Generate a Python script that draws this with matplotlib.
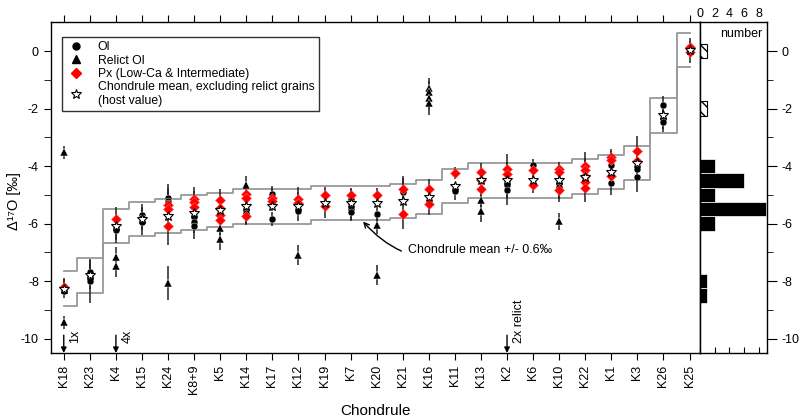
import numpy as np
import matplotlib
matplotlib.use('Agg')
import matplotlib.pyplot as plt
from matplotlib.lines import Line2D

plt.rcParams['font.family'] = ['Liberation Sans', 'DejaVu Sans']
plt.rcParams['axes.unicode_minus'] = False

# chondrules, ordered as on the x axis
chondrules = ['K18', 'K23', 'K4', 'K15', 'K24', 'K8+9', 'K5', 'K14', 'K17', 'K12',
              'K19', 'K7', 'K20', 'K21', 'K16', 'K11', 'K13', 'K2', 'K6', 'K10',
              'K22', 'K1', 'K3', 'K26', 'K25']
# chondrule mean (host value, relicts excluded)
host_mean = [-8.26, -7.80, -6.08, -5.84, -5.74, -5.62, -5.52, -5.40, -5.40, -5.40,
             -5.28, -5.28, -5.28, -5.21, -5.08, -4.70, -4.50, -4.50, -4.50, -4.50,
             -4.37, -4.21, -3.90, -2.24, 0.03]
band = 0.6

# olivine
ol_chond = ['K18', 'K18', 'K23', 'K23', 'K23', 'K4', 'K4', 'K15', 'K15', 'K15',
            'K24', 'K24', 'K24', 'K8+9', 'K8+9', 'K8+9', 'K14', 'K14', 'K14',
            'K17', 'K17', 'K12', 'K7', 'K7', 'K7', 'K7', 'K20', 'K21', 'K11',
            'K2', 'K2', 'K2', 'K6', 'K10', 'K10', 'K1', 'K1', 'K3', 'K3',
            'K26', 'K26', 'K26']
ol_d17 = [-8.20, -8.35, -7.67, -7.84, -8.00, -6.17, -6.23, -5.71, -5.81, -5.95,
          -5.12, -5.22, -5.30, -5.77, -5.94, -6.09, -5.54, -5.63, -5.72,
          -4.96, -5.83, -5.55, -5.13, -5.30, -5.48, -5.60, -5.65, -4.90, -4.88,
          -4.50, -4.67, -4.84, -3.96, -4.59, -4.73, -3.96, -4.58, -4.09, -4.38,
          -1.88, -2.36, -2.48]
ol_err = [0.30, 0.25, 0.42, 0.45, 0.76, 0.40, 0.45, 0.40, 0.40, 0.45,
          0.50, 0.45, 0.45, 0.40, 0.40, 0.45, 0.35, 0.35, 0.30,
          0.25, 0.25, 0.35, 0.35, 0.35, 0.40, 0.30, 0.30, 0.50, 0.30,
          0.45, 0.45, 0.52, 0.20, 0.40, 0.40, 0.35, 0.44, 0.45, 0.52,
          0.32, 0.35, 0.35]

# relict olivine
relict_chond = ['K18', 'K18', 'K4', 'K4', 'K24', 'K5', 'K5', 'K14', 'K12', 'K20',
                'K20', 'K16', 'K16', 'K16', 'K16', 'K13', 'K13', 'K10']
relict_d17 = [-3.52, -9.43, -7.15, -7.47, -8.07, -6.17, -6.54, -4.67, -7.09, -6.06,
              -7.78, -1.29, -1.44, -1.62, -1.79, -5.19, -5.56, -5.92]
relict_err = [0.23, 0.22, 0.35, 0.37, 0.60, 0.35, 0.38, 0.34, 0.35, 0.30,
              0.35, 0.35, 0.40, 0.40, 0.45, 0.35, 0.38, 0.30]

# pyroxene (low-Ca & intermediate)
px_chond = ['K18', 'K4', 'K24', 'K24', 'K24', 'K8+9', 'K8+9', 'K8+9', 'K5', 'K5',
            'K5', 'K5', 'K14', 'K14', 'K14', 'K17', 'K17', 'K12', 'K12', 'K19',
            'K19', 'K7', 'K20', 'K21', 'K21', 'K16', 'K16', 'K11', 'K13', 'K13',
            'K13', 'K2', 'K2', 'K6', 'K6', 'K10', 'K10', 'K10', 'K22', 'K22',
            'K22', 'K22', 'K22', 'K1', 'K1', 'K1', 'K3', 'K3', 'K25', 'K25']
px_d17 = [-8.22, -5.85, -5.35, -5.48, -6.09, -5.13, -5.25, -5.42, -5.17, -5.45,
          -5.71, -5.88, -4.96, -5.10, -5.75, -5.10, -5.21, -5.13, -5.30, -5.02,
          -5.40, -5.02, -5.02, -4.79, -5.65, -4.79, -5.33, -4.24, -4.21, -4.47,
          -4.81, -4.09, -4.27, -4.15, -4.67, -4.10, -4.22, -4.84, -3.99, -4.15,
          -4.33, -4.56, -4.76, -3.67, -3.78, -4.33, -3.48, -3.83, 0.14, -0.03]
px_err = [0.28, 0.43, 0.40, 0.40, 0.66, 0.40, 0.40, 0.40, 0.38, 0.40,
          0.40, 0.40, 0.35, 0.35, 0.30, 0.35, 0.35, 0.40, 0.40, 0.30,
          0.40, 0.25, 0.25, 0.45, 0.55, 0.35, 0.38, 0.22, 0.30, 0.30,
          0.35, 0.50, 0.40, 0.25, 0.25, 0.25, 0.30, 0.40, 0.47, 0.40,
          0.40, 0.40, 0.49, 0.27, 0.30, 0.40, 0.54, 0.40, 0.32, 0.37]

# grains off scale (below -10.5)
offscale_chond = ['K18', 'K4', 'K2']
offscale_label = ['1x', '4x', '2x relict']

# histogram of chondrule means; hatched ones drawn apart
hatched_chond = ['K26', 'K25']
bin_edges = np.arange(-10.25, 1.0, 0.5)

pos = {c: i for i, c in enumerate(chondrules)}
ol_x = [pos[c] for c in ol_chond]
relict_x = [pos[c] for c in relict_chond]
px_x = [pos[c] for c in px_chond]
xs = np.arange(len(chondrules))
mean = np.array(host_mean)

fig = plt.figure(figsize=(8, 4.18), dpi=100)
ax = fig.add_axes([0.0634, 0.1555, 0.8116, 0.7912])
axh = fig.add_axes([0.875, 0.1555, 0.0838, 0.7912])

# mean +/- 0.6 envelope
ax.plot(xs, mean + band, drawstyle='steps-mid', color='#999999', lw=1.3, zorder=1)
ax.plot(xs, mean - band, drawstyle='steps-mid', color='#999999', lw=1.3, zorder=1)

# error bars
for x, y, e in [(ol_x, ol_d17, ol_err), (relict_x, relict_d17, relict_err),
                (px_x, px_d17, px_err)]:
    ax.errorbar(x, y, yerr=e, fmt='none', ecolor='#222222', elinewidth=1.1,
                capsize=0, zorder=2)

ax.plot(ol_x, ol_d17, 'o', color='black', ms=5, mec='white', mew=0.3, zorder=3)
ax.plot(relict_x, relict_d17, '^', color='black', ms=5.5, mec='white', mew=0.3, zorder=3)
ax.plot(px_x, px_d17, 'D', color='#ff0000', ms=4.8, mec='#ff6060', mew=0.4, zorder=4)
ax.plot(xs, host_mean, '*', ms=7.5, mfc='white', mec='black', mew=0.8, zorder=5)

# off-scale arrows
for c, lab in zip(offscale_chond, offscale_label):
    ax.annotate('', xy=(pos[c], -10.5), xytext=(pos[c], -9.88),
                arrowprops=dict(arrowstyle='-|>', color='black', lw=1,
                                mutation_scale=8, shrinkA=0, shrinkB=0))
    ax.text(pos[c] + 0.22, -10.15, lab, rotation=90, ha='left', va='bottom',
            fontsize=9)

ax.annotate('Chondrule mean +/- 0.6‰', xy=(11.48, -5.93), xytext=(13.2, -6.92),
            fontsize=9, va='center', ha='left',
            arrowprops=dict(arrowstyle='->', color='black', lw=1,
                            connectionstyle='arc3,rad=-0.35', shrinkA=3, shrinkB=0))

ax.set_xlim(-0.5, 24.4)
ax.set_ylim(-10.5, 1.0)
ax.set_xticks(xs)
ax.set_xticklabels(chondrules, rotation=90, fontsize=9)
ax.set_yticks(np.arange(-10, 1, 2))
ax.set_yticks(np.arange(-9, 1, 2), minor=True)
ax.tick_params(axis='y', which='both', direction='out', length=5, labelsize=9)
ax.tick_params(axis='x', direction='out', length=5, top=True)
ax.set_xlabel('Chondrule', fontsize=11)
ax.xaxis.set_label_coords(0.5, -0.155)
ax.set_ylabel('Δ¹⁷O [‰]', fontsize=10.5)
ax.yaxis.set_label_coords(-0.046, 0.46)
for s in ax.spines.values():
    s.set_linewidth(1.0)

handles = [
    Line2D([], [], ls='none', marker='o', color='black', ms=5),
    Line2D([], [], ls='none', marker='^', color='black', ms=5.5),
    Line2D([], [], ls='none', marker='D', color='#ff0000', ms=4.8),
    Line2D([], [], ls='none', marker='*', mfc='white', mec='black', ms=7.5, mew=0.8),
]
labels = ['Ol', 'Relict Ol', 'Px (Low-Ca & Intermediate)',
          'Chondrule mean, excluding relict grains\n(host value)']
leg = ax.legend(handles, labels, loc='upper left', bbox_to_anchor=(0.017, 0.955),
                fontsize=8.8, frameon=True, fancybox=False, edgecolor='black',
                borderpad=0.35, labelspacing=0.1, handletextpad=0.9,
                handlelength=1.7, borderaxespad=0)
leg.get_frame().set_linewidth(1.0)

# histogram panel
main_vals = [m for c, m in zip(chondrules, host_mean) if c not in hatched_chond]
hatch_vals = [m for c, m in zip(chondrules, host_mean) if c in hatched_chond]
cnt_main, _ = np.histogram(main_vals, bins=bin_edges)
cnt_hatch, _ = np.histogram(hatch_vals, bins=bin_edges)
centers = (bin_edges[:-1] + bin_edges[1:]) / 2
axh.barh(centers, cnt_main, height=0.5, color='black', edgecolor='white', lw=0.5)
axh.barh(centers, cnt_hatch, height=0.5, color='white', edgecolor='black',
         lw=0.8, hatch='\\\\\\')
axh.set_xlim(0, 9.1)
axh.set_ylim(-10.5, 1.0)
axh.set_xticks([0, 2, 4, 6, 8])
axh.tick_params(axis='x', direction='in', length=4, bottom=True, top=False,
                labelbottom=False, labeltop=True, labelsize=9, pad=2)
axh.yaxis.tick_right()
axh.set_yticks(np.arange(-10, 1, 2))
axh.set_yticks(np.arange(-9, 1, 2), minor=True)
axh.tick_params(axis='y', which='major', direction='out', length=7, labelsize=9)
axh.tick_params(axis='y', which='minor', direction='out', length=4)
axh.text(0.62, 0.965, 'number', transform=axh.transAxes, ha='center', va='center',
         fontsize=9)
for s in axh.spines.values():
    s.set_linewidth(1.0)

fig.savefig('out.png', dpi=100)
